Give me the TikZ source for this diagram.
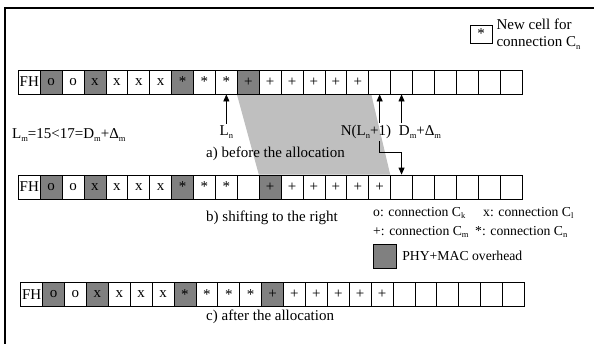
\documentclass[tikz,border=0pt]{standalone}
\usepackage{fontspec}
\setmainfont{Liberation Serif}
\usetikzlibrary{arrows.meta,backgrounds}
\colorlet{ovh}{gray}
\colorlet{shifted}{gray!50}
% small lowered index, as in C_n
\newcommand{\idx}[1]{\raisebox{-0.4ex}{\fontsize{8.5}{9}\selectfont #1}}

\begin{document}
\begin{tikzpicture}[x=1pt, y=-1pt,
		every node/.style={font=\fontsize{15}{17}\selectfont, inner sep=2pt},
		cell/.style={draw, line width=0.8pt, minimum width=21.9pt, minimum height=24pt, inner sep=0pt},
		pointer/.style={-{Triangle[length=7pt,width=6pt]}, line width=0.8pt},
		caption/.style={anchor=west},
		key/.style={anchor=west, font=\fontsize{13.7}{16}\selectfont}]
		\useasboundingbox (0,0) rectangle (594,343);
		\clip (0,0) rectangle (594,343);
		\draw [line width=1.3pt] (5,8) rectangle (620,370);
		
		% a) before the allocation
		\foreach \lab/\col [count=\i from 0] in {FH/white, o/ovh, o/white, x/ovh, x/white, x/white, x/white, */ovh, */white, */white, +/ovh, +/white, +/white, +/white, +/white, +/white, /white, /white, /white, /white, /white, /white, /white}
		\node [cell, fill=\col] (a\i) at (29.25+21.9*\i, 82) {\lab};
		
		% b) shifting to the right
		\foreach \lab/\col [count=\i from 0] in {FH/white, o/ovh, o/white, x/ovh, x/white, x/white, x/white, */ovh, */white, */white, /white, +/ovh, +/white, +/white, +/white, +/white, +/white, /white, /white, /white, /white, /white, /white}
		\node [cell, fill=\col] (b\i) at (29.25+21.9*\i, 187) {\lab};
		
		% c) after the allocation
		\foreach \lab/\col [count=\i from 0] in {FH/white, o/ovh, o/white, x/ovh, x/white, x/white, x/white, */ovh, */white, */white, */white, +/ovh, +/white, +/white, +/white, +/white, +/white, /white, /white, /white, /white, /white, /white}
		\node [cell, fill=\col] (c\i) at (31.65+21.9*\i, 294.5) {\lab};
		
		% block of C_m moved one cell on
		\begin{scope}[on background layer]
		\fill [shifted] (a10.south west) -- ([xshift=3pt]a16.south west) -- (b17.north west) -- (b11.north west) -- cycle;
		\end{scope}
		
		% pointers into the frame
		\node (Ln) at (a9 |- 0,132) {L\idx{n}};
		\node (Nl) at (366,132) {N(L\idx{n}+1)};
		\node (Dl) at (420,132) {D\idx{m}+Δ\idx{m}};
		\draw [pointer] (Ln) -- (a9.south);
		\draw [pointer] (a16 |- Nl.north) -- (a16.south);
		\draw [pointer] (a17 |- Dl.north) -- (a17.south);
		\draw [pointer] (a16 |- Nl.south) -- ++(0,11) -| (b17.north);
		
		\node [anchor=west] (cond) at (10,135) {L\idx{m}=15<17=D\idx{m}+Δ\idx{m}};
		
		\node [caption] (capa) at (204,154) {a) before the allocation};
		\node [caption] (capb) at (204,218) {b) shifting to the right};
		\node [caption] (capc) at (204,317) {c) after the allocation};
		
		% legend
		\node [cell, minimum height=18pt] (newcell) at (481,34) {*};
		\node [anchor=west, align=left, xshift=2pt] (newtxt) at (newcell.east) {New cell for\\connection C\idx{n}};
		\node [key] (keyo) at (371,213) {o: connection C\idx{k}};
		\node [key] (keyx) at (481,213) {x: connection C\idx{l}};
		\node [key] (keyp) at (371,232) {+: connection C\idx{m}};
		\node [key] (keys) at (473,232) {*: connection C\idx{n}};
		\node [cell, fill=ovh, minimum width=23.4pt] (ovhkey) at (385,256) {};
		\node [key, xshift=3pt] (ovhtxt) at (ovhkey.east) {PHY+MAC overhead};
		
		\end{tikzpicture}
\end{document}
